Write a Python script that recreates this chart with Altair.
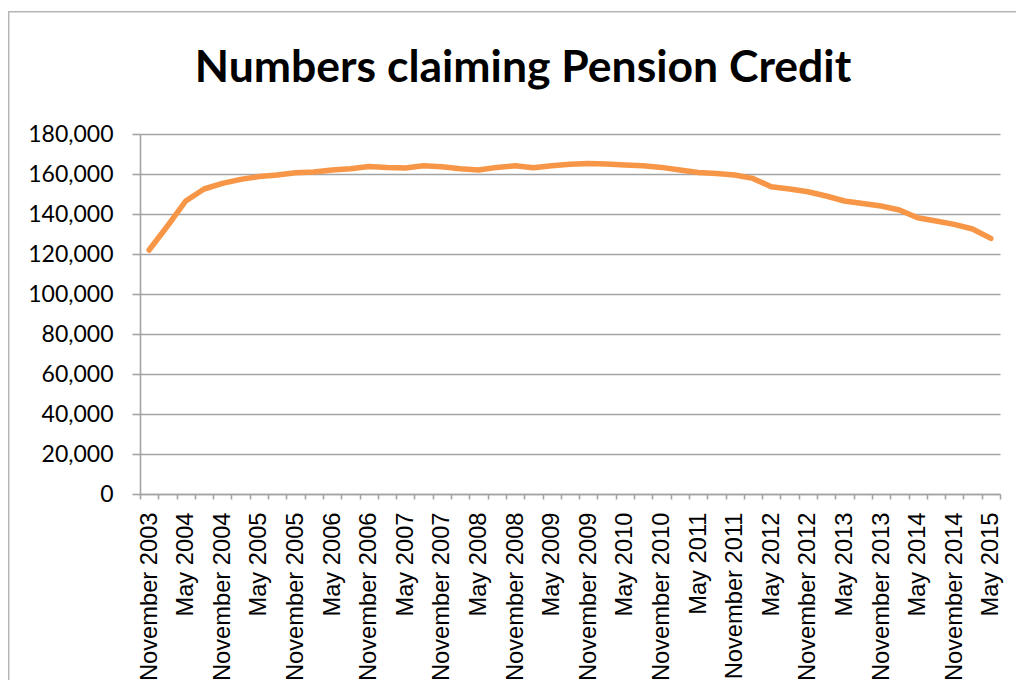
import json
import altair as alt
import pandas as pd

title_text = "Numbers claiming Pension Credit"

periods = [
    "November 2003",
    "February 2004", "May 2004", "August 2004", "November 2004",
    "February 2005", "May 2005", "August 2005", "November 2005",
    "February 2006", "May 2006", "August 2006", "November 2006",
    "February 2007", "May 2007", "August 2007", "November 2007",
    "February 2008", "May 2008", "August 2008", "November 2008",
    "February 2009", "May 2009", "August 2009", "November 2009",
    "February 2010", "May 2010", "August 2010", "November 2010",
    "February 2011", "May 2011", "August 2011", "November 2011",
    "February 2012", "May 2012", "August 2012", "November 2012",
    "February 2013", "May 2013", "August 2013", "November 2013",
    "February 2014", "May 2014", "August 2014", "November 2014",
    "February 2015", "May 2015",
]

claimants = [
    122000,
    134000, 146500, 152500, 155300,
    157300, 158700, 159500, 160600,
    161000, 162000, 162600, 163800,
    163200, 163000, 164100, 163600,
    162600, 162000, 163300, 164100,
    163100, 164100, 164900, 165300,
    165000, 164500, 164100, 163300,
    162000, 160800, 160200, 159500,
    157800, 153600, 152500, 151100,
    149000, 146500, 145300, 144000,
    142000, 138100, 136500, 134800,
    132500, 127800,
]

y_ticks = [0, 20000, 40000, 60000, 80000, 100000, 120000, 140000, 160000, 180000]

df = pd.DataFrame({
    "period": periods,
    "claimants": claimants,
    "pos": list(range(len(periods))),
})

n = len(periods)
boundary_ticks = [i - 0.5 for i in range(n + 1)]
label_ticks = list(range(0, n, 2))
x_values = sorted(boundary_ticks + label_ticks)
label_expr = f"datum.value % 2 === 0 ? {json.dumps(periods)}[datum.value] : ''"

GRID = "#a3a3a3"

line = alt.Chart(df).mark_line(
    color="#F79646", strokeWidth=5.5, strokeJoin="round", strokeCap="round"
).encode(
    x=alt.X(
        "pos:Q",
        scale=alt.Scale(domain=[-0.5, n - 0.5], nice=False, zero=False),
        axis=alt.Axis(
            title=None,
            values=x_values,
            labelExpr=label_expr,
            labelAngle=-90,
            labelFont="Liberation Sans",
            labelFontSize=23.7,
            labelColor="#000000",
            labelPadding=13,
            labelOverlap=False,
            labelFlush=False,
            labelBound=False,
            tickSize=5,
            tickColor=GRID,
            tickWidth=1.6,
            tickOpacity={"condition": {"test": "datum.value % 1 === 0", "value": 0}, "value": 1},
            domainColor=GRID,
            domainWidth=1.6,
            grid=False,
        ),
    ),
    y=alt.Y(
        "claimants:Q",
        scale=alt.Scale(domain=[0, 180000], nice=False),
        axis=alt.Axis(
            title=None,
            values=y_ticks,
            format=",d",
            labelFont="Lato",
            labelFontSize=23,
            labelColor="#000000",
            labelPadding=19,
            tickSize=8,
            tickColor=GRID,
            tickWidth=1.6,
            domainColor=GRID,
            domainWidth=1.6,
            gridColor=GRID,
            gridWidth=1.6,
        ),
    ),
)

one = alt.Data(values=[{"k": 1}])

title = alt.Chart(one).mark_text(
    font="Lato", fontWeight="bold", fontSize=44.5, align="center",
    baseline="alphabetic", color="#000000",
).encode(
    x=alt.value(383), y=alt.value(-52), text=alt.value(title_text)
)

frame_top = alt.Chart(one).mark_rule(color="#b5b5b5", strokeWidth=1.5).encode(
    x=alt.value(-132), x2=alt.value(880), y=alt.value(-122.3)
)
frame_left = alt.Chart(one).mark_rule(color="#b5b5b5", strokeWidth=1.5).encode(
    x=alt.value(-131.3), y=alt.value(-122.3), y2=alt.value(560)
)

chart = alt.layer(frame_top, frame_left, line, title).properties(
    width=860,
    height=360,
    autosize=alt.AutoSizeParams(type="none"),
    padding={"left": 132, "top": 126, "right": 16, "bottom": 186},
).configure_view(strokeWidth=0)

chart.save("out.html", embed_options={"renderer": "svg", "actions": False})
